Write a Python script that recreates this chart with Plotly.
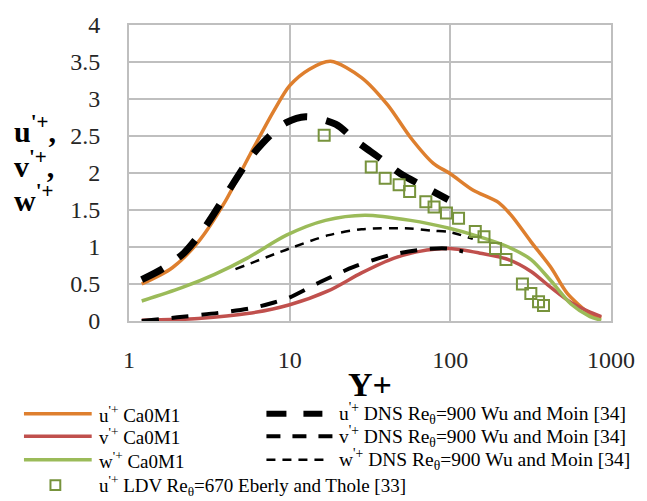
import plotly.graph_objects as go

# ---- data -------------------------------------------------------------
u_ca_x = [1.2, 1.86, 2.7, 3.93, 5.7, 7.92, 10, 13.2, 18, 28, 40.7, 56.5, 78.4,
          100, 138, 200, 241, 318, 424, 536, 740, 870]
u_ca_y = [0.50, 0.72, 1.07, 1.60, 2.26, 2.83, 3.18, 3.40, 3.51, 3.29, 2.92, 2.48,
          2.13, 1.99, 1.77, 1.60, 1.42, 1.07, 0.72, 0.37, 0.10, 0.04]

v_ca_x = [1.2, 1.8, 2.7, 5.45, 10, 17.5, 28, 44.7, 71.5, 100, 151, 230, 318,
          424, 563, 740, 870]
v_ca_y = [0.01, 0.02, 0.035, 0.10, 0.22, 0.41, 0.65, 0.85, 0.96, 0.98, 0.92,
          0.83, 0.67, 0.45, 0.25, 0.12, 0.06]

w_ca_x = [1.2, 2.13, 3.41, 5.45, 9.55, 16.7, 29.4, 56.5, 100, 151, 230, 318,
          424, 563, 740, 870]
w_ca_y = [0.27, 0.45, 0.63, 0.85, 1.16, 1.36, 1.43, 1.36, 1.25, 1.14, 1.00,
          0.83, 0.54, 0.23, 0.06, 0.01]

u_dns_x = [1.2, 1.6, 2.2, 3.0, 4.0, 5.7, 7.5, 9.5, 12.6, 19.3, 26, 37, 49, 71, 97]
u_dns_y = [0.56, 0.70, 0.92, 1.28, 1.70, 2.21, 2.50, 2.68, 2.76, 2.66, 2.43,
           2.19, 1.99, 1.80, 1.64]

v_dns_x = [1.2, 2.0, 3.6, 6.0, 8.0, 9.8, 15.6, 25, 42, 70, 95, 120]
v_dns_y = [0.0, 0.05, 0.11, 0.18, 0.25, 0.31, 0.53, 0.73, 0.89, 0.97, 0.98, 0.94]

w_dns_x = [4.6, 10, 17.5, 28, 56, 78, 100, 138]
w_dns_y = [0.70, 0.98, 1.16, 1.24, 1.25, 1.22, 1.20, 1.11]

ldv_x = [16.4, 32.2, 39.3, 48, 55.8, 70.4, 79.2, 94.6, 112.5, 143, 162, 191,
         222, 281, 317, 354, 380]
ldv_y = [2.51, 2.08, 1.93, 1.84, 1.75, 1.61, 1.54, 1.46, 1.39, 1.21, 1.14,
         0.98, 0.83, 0.50, 0.37, 0.26, 0.21]

x_ticks = [1, 10, 100, 1000]
x_tick_text = ["1", "10", "100", "1000"]

labels_ca = ["u<sup>'+</sup> Ca0M1", "v<sup>'+</sup> Ca0M1", "w<sup>'+</sup> Ca0M1"]
labels_dns = ["u<sup>'+</sup> DNS Re<sub>θ</sub>=900 Wu and Moin [34]",
              "v<sup>'+</sup> DNS Re<sub>θ</sub>=900 Wu and Moin [34]",
              "w<sup>'+</sup> DNS Re<sub>θ</sub>=900 Wu and Moin [34]"]
label_ldv = "u<sup>'+</sup> LDV Re<sub>θ</sub>=670 Eberly and Thole [33]"
y_title_lines = ["<b>u<sup>'+</sup>,</b>", "<b>v<sup>'+</sup>,</b>", "<b>w<sup>'+</sup></b>"]

# ---- styles -----------------------------------------------------------
FONT = "Liberation Serif, serif"
ORANGE, RED, GREEN = "#DE7F2E", "#C0504D", "#9BBB59"
SQ_EDGE = "#77933C"
GRID = "#BFBFBF"

ca_styles = [dict(color=ORANGE, width=3.5),
             dict(color=RED, width=3.5),
             dict(color=GREEN, width=3.5)]
dns_styles = [dict(color="black", width=7, dash="24px,19px"),
              dict(color="black", width=4, dash="17px,13px"),
              dict(color="black", width=2.5, dash="9px,7px")]
legend_dns_dash = ["20px,17px", "14px,12px", "9px,7px"]

W, H = 647, 501
L, R, T, B = 129, 27, 18, 180
PW, PH = W - L - R, H - T - B


def px_x(p):
    return (p - L) / PW


def px_y(p):
    return (H - B - p) / PH


fig = go.Figure()

for xs, ys, st in zip([u_ca_x, v_ca_x, w_ca_x], [u_ca_y, v_ca_y, w_ca_y], ca_styles):
    fig.add_trace(go.Scatter(x=xs, y=ys, mode="lines",
                             line=dict(shape="spline", smoothing=0.8, **st),
                             showlegend=False))

for xs, ys, st in zip([u_dns_x, v_dns_x, w_dns_x], [u_dns_y, v_dns_y, w_dns_y], dns_styles):
    fig.add_trace(go.Scatter(x=xs, y=ys, mode="lines",
                             line=dict(shape="spline", smoothing=0.8, **st),
                             showlegend=False))

fig.add_trace(go.Scatter(x=ldv_x, y=ldv_y, mode="markers",
                         marker=dict(symbol="square-open", size=11,
                                     line=dict(color=SQ_EDGE, width=2), color=SQ_EDGE),
                         showlegend=False))

# ---- legend drawn below the plot ------------------------------------
shapes = []
annotations = []
rows = [416, 439, 463]
for i, yrow in enumerate(rows):
    st = ca_styles[i]
    shapes.append(dict(type="line", xref="paper", yref="paper",
                       x0=px_x(22), x1=px_x(91), y0=px_y(yrow), y1=px_y(yrow),
                       line=dict(color=st["color"], width=3.5)))
    annotations.append(dict(text=labels_ca[i], xref="paper", yref="paper",
                            x=px_x(96), y=px_y(yrow), xanchor="left", yanchor="middle",
                            showarrow=False, font=dict(family=FONT, size=19, color="black")))
    ds = dns_styles[i]
    x_end = [326, 338, 330][i]
    shapes.append(dict(type="line", xref="paper", yref="paper",
                       x0=px_x(269), x1=px_x(x_end), y0=px_y(yrow), y1=px_y(yrow),
                       line=dict(color="black", width=ds["width"] if i else 6,
                                 dash=legend_dns_dash[i])))
    annotations.append(dict(text=labels_dns[i], xref="paper", yref="paper",
                            x=px_x(341), y=px_y(yrow), xanchor="left", yanchor="middle",
                            showarrow=False, font=dict(family=FONT, size=19.5, color="black")))

shapes.append(dict(type="rect", xref="paper", yref="paper",
                   x0=px_x(49), x1=px_x(59), y0=px_y(484), y1=px_y(494),
                   line=dict(color=SQ_EDGE, width=2)))
annotations.append(dict(text=label_ldv, xref="paper", yref="paper",
                        x=px_x(96), y=px_y(489), xanchor="left", yanchor="middle",
                        showarrow=False, font=dict(family=FONT, size=19, color="black")))

# axis titles
for txt, yp in zip(y_title_lines, [124, 160, 195]):
    annotations.append(dict(text=txt, xref="paper", yref="paper",
                            x=px_x(10), y=px_y(yp), xanchor="left", yanchor="middle",
                            showarrow=False, font=dict(family=FONT, size=30, color="black")))
annotations.append(dict(text="<b>Y+</b>", xref="paper", yref="paper",
                        x=px_x(374), y=px_y(386), xanchor="center", yanchor="middle",
                        showarrow=False, font=dict(family=FONT, size=34, color="black")))

fig.update_layout(
    width=W, height=H,
    margin=dict(l=L, r=R, t=T, b=B),
    paper_bgcolor="white", plot_bgcolor="white",
    shapes=shapes, annotations=annotations,
    showlegend=False,
)
fig.update_xaxes(type="log", range=[0, 3], tickvals=x_ticks, ticktext=x_tick_text,
                 showgrid=True, gridcolor=GRID, gridwidth=1.6,
                 showline=True, linecolor=GRID, linewidth=2, mirror=True,
                 ticks="", tickfont=dict(family=FONT, size=24, color="#262626"),
                 ticklabelstandoff=16, zeroline=False)
fig.update_yaxes(range=[0, 4], dtick=0.5, tick0=0,
                 showgrid=True, gridcolor=GRID, gridwidth=1.6,
                 showline=True, linecolor=GRID, linewidth=2, mirror=True,
                 ticks="", tickfont=dict(family=FONT, size=24, color="#262626"),
                 ticklabelstandoff=22, zeroline=False)

fig.write_html("out.html")
